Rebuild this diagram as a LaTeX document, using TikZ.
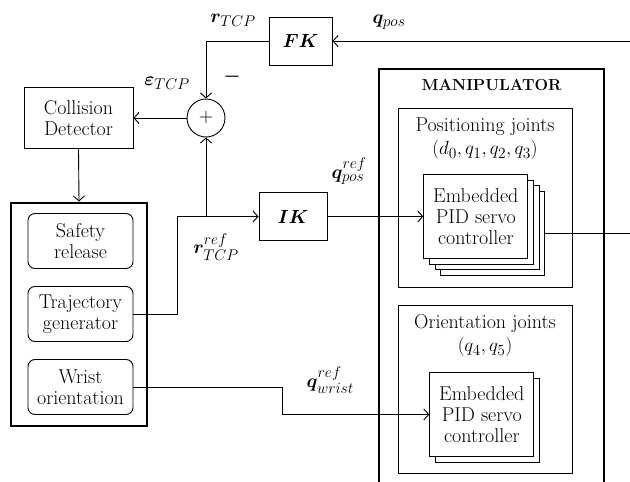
\RequirePackage{fix-cm}
\documentclass[tikz,border=0pt]{standalone}
\usepackage{amssymb,amsmath}
\usepackage{tikz}
\usetikzlibrary{arrows.meta}
\usepackage{bm}
\DeclareMathSizes{20}{19}{15.5}{12}

\begin{document}
\begin{tikzpicture}[node distance={73pt}, line width=0.9pt,
    >={Straight Barb[length=5pt,width=11pt]},
    every node/.style={font=\fontsize{20}{21}\selectfont, inner sep=0pt},
    main/.style={draw, minimum height=48pt},
    sum/.style={draw, circle, minimum size=38pt},
    task/.style={draw, rounded corners=7pt, minimum width=105pt, minimum height=55pt, align=center},
    pid/.style={draw, fill=white, minimum width=104pt, minimum height=84pt, align=center},
    group/.style={draw, minimum width=174pt},
    outer/.style={draw, line width=2pt}]
    \useasboundingbox (0,0) rectangle (630pt,-482pt);

    \node[main, minimum width=63pt] (0) at (300.5pt,-41pt) {$\bm{FK}$};
    \node[sum] (1) [below of=0, xshift=-94.5pt, yshift=-4pt] {+};
    \node[main, minimum width=109pt, minimum height=61pt, align=center] (2) [left of=1, xshift=-54.5pt] {Collision\\Detector};

    \node[outer, minimum width=136pt, minimum height=223pt] (3) [below of=2, xshift=0.5pt, yshift=-123pt] {};
    \node[task] (5) [right of=3, xshift=-71.5pt] {Trajectory\\generator};
    \node[task] (4) [above of=5] {Safety\\release};
    \node[task] (6) [below of=5] {Wrist\\orientation};

    \node[main, minimum width=68pt] (7) [below of=1, xshift=87pt, yshift=-25.5pt] {$\bm{IK}$};

    \node[outer, minimum width=225pt, minimum height=440pt] (8) [right of=0, xshift=118pt, yshift=-248pt] {};
    \node[] (9) at (8.north) [yshift=-17pt] {\fontsize{16}{18}\selectfont\bfseries MANIPULATOR};

    \node[group, minimum height=179pt] (10) [above of=8, xshift=-6.5pt, yshift=18.5pt] {};
    \node[align=center, anchor=north] (11) at (10.north) [yshift=-10pt] {Positioning joints\\[2pt] $(d_0, q_1, q_2, q_3)$};
    \node[group, minimum height=168pt] (15) [below of=10, yshift=-118.5pt] {};
    \node[align=center, anchor=north] (19) at (15.north) [yshift=-10pt] {Orientation joints\\[2pt] $(q_4, q_5)$};

    \node[pid] (12) [right of=7, xshift=126.9pt, yshift=-17.1pt] {};
    \node[pid] (13) [right of=7, xshift=121.2pt, yshift=-11.4pt] {};
    \node[pid] (14) [right of=7, xshift=115.5pt, yshift=-5.7pt] {};
    \node[pid] (16) [right of=7, xshift=109.8pt] {Embedded\\PID servo\\controller};

    \node[pid] (17) [below of=16, xshift=12pt, yshift=-131pt] {};
    \node[pid] (18) [below of=16, xshift=6pt, yshift=-125pt] {Embedded\\PID servo\\controller};

    \node[] (20) [left of=0, xshift=5.5pt, yshift=21pt] {$\bm{r}_{TCP}$};
    \node[] (21) [right of=1, xshift=-47pt, yshift=41pt] {$\bm{-}$};
    \node[] (22) [left of=1, xshift=34pt, yshift=35pt] {$\bm{\varepsilon}_{TCP}$};
    \node[] (23) [right of=0, xshift=15.5pt, yshift=19pt] {$\bm{q}_{pos}$};
    \node[] (24) [left of=7, xshift=-4pt, yshift=-30.5pt] {$\bm{r}_{TCP}^{ref}$};
    \node[] (25) [right of=7, xshift=-17pt, yshift=45.5pt] {$\bm{q}_{pos}^{ref}$};
    \node[] (26) [left of=18, xshift=-78.5pt, yshift=34pt] {$\bm{q}_{wrist}^{ref}$};

    \coordinate (27) at ([xshift=329.5pt]0.center);
    \coordinate (28) at (12.east -| 27);

    \draw[->] (27) -- (0.east);
    \draw[->] (0.west) -| (1.north);
    \draw[->] (1.west) -- (2.east);
    \draw[->] (2.south) -- (3.north);
    \draw[->] (5.east) -- ++(44pt,0) |- (7.west);
    \draw[->] (1 |- 7.west) -- (1.south);
    \draw[->] (7.east) -- (16.west);
    \draw[->] (6.east) -- ++(149pt,0) |- (18.west);
    \draw (12.east) -- (28);
\end{tikzpicture}
\end{document}
